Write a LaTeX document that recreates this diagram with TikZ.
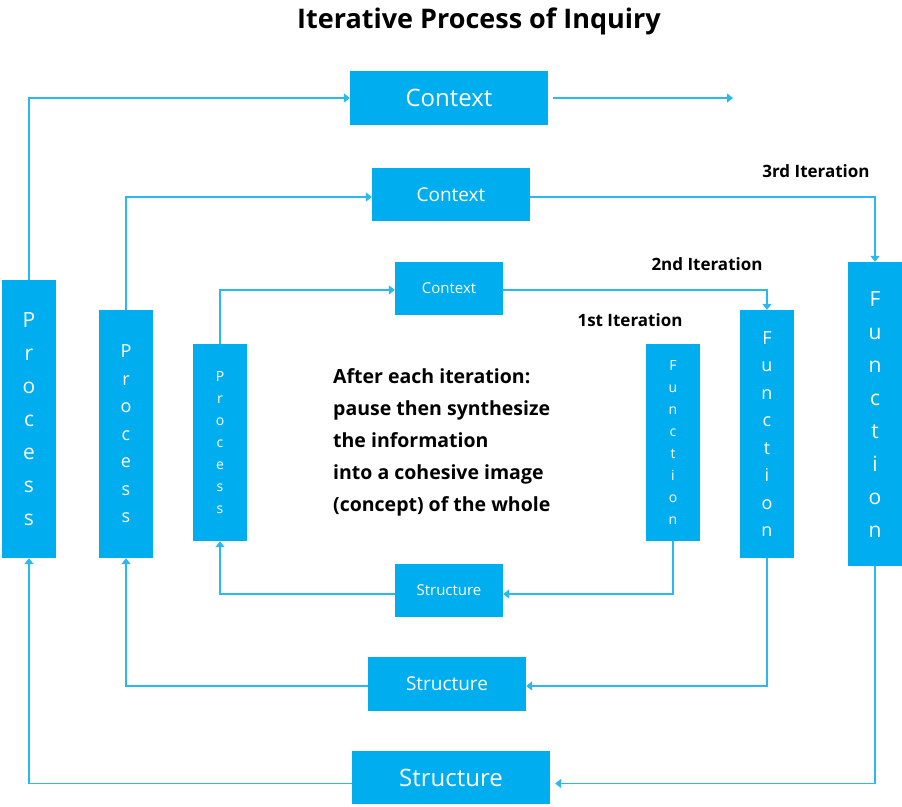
\documentclass[tikz,border=0pt]{standalone}
\usepackage{fontspec}
\setmainfont{Open Sans}
\usetikzlibrary{arrows.meta}
\definecolor{boxblue}{RGB}{0,174,239}
\definecolor{lineblue}{RGB}{40,185,240}
\tikzset{
  box/.style={fill=boxblue, text=white, inner sep=0pt, rectangle, align=center},
  conn/.style={draw=lineblue, line width=1.4pt, -{Triangle[width=9pt,length=6pt]}},
  lbl/.style={text=black, inner sep=0pt, font=\fontsize{17}{20}\selectfont\bfseries}
}
\begin{document}
\begin{tikzpicture}[x=1pt,y=-1pt]
\useasboundingbox (0,0) rectangle (902,806);
\node[inner sep=0pt, font=\fontsize{27}{32}\selectfont\bfseries] (title) at (479,21) {Iterative Process of Inquiry};
% Context boxes
\node[box, minimum width=198pt, minimum height=54pt, font=\fontsize{24}{28}\selectfont] (c1) at (449,98) {Context};
\node[box, minimum width=158pt, minimum height=53pt, font=\fontsize{19}{24}\selectfont] (c2) at (451,194.5) {Context};
\node[box, minimum width=108pt, minimum height=53pt, font=\fontsize{15}{18}\selectfont] (c3) at (449,288.5) {Context};
% Structure boxes
\node[box, minimum width=108pt, minimum height=53pt, font=\fontsize{15}{18}\selectfont] (s1) at (449,590.5) {Structure};
\node[box, minimum width=158pt, minimum height=54pt, font=\fontsize{19}{24}\selectfont] (s2) at (447,684) {Structure};
\node[box, minimum width=198pt, minimum height=53pt, font=\fontsize{24}{28}\selectfont] (s3) at (451,777.5) {Structure};
% Process boxes
\node[box, minimum width=54pt, minimum height=278pt, font=\fontsize{21}{33}\selectfont] (p3) at (29,419) {P\\r\\o\\c\\e\\s\\s};
\node[box, minimum width=54pt, minimum height=248pt, font=\fontsize{18}{27.5}\selectfont] (p2) at (126,434) {P\\r\\o\\c\\e\\s\\s};
\node[box, minimum width=54pt, minimum height=197pt, font=\fontsize{14}{22}\selectfont] (p1) at (220,442.5) {P\\r\\o\\c\\e\\s\\s};
% Function boxes
\node[box, minimum width=54pt, minimum height=197pt, font=\fontsize{14}{22}\selectfont] (f1) at (673,442.5) {F\\u\\n\\c\\t\\i\\o\\n};
\node[box, minimum width=54pt, minimum height=248pt, font=\fontsize{18}{27.5}\selectfont] (f2) at (767,434) {F\\u\\n\\c\\t\\i\\o\\n};
\node[box, minimum width=54pt, minimum height=304pt, font=\fontsize{21}{33}\selectfont] (f3) at (875,414) {F\\u\\n\\c\\t\\i\\o\\n};
% labels
\node[lbl] (it3) at (816,171) {3rd Iteration};
\node[lbl] (it2) at (707,264) {2nd Iteration};
\node[lbl] (it1) at (630,320) {1st Iteration};
\node[inner sep=0pt, anchor=north west, align=left, font=\fontsize{19.5}{32}\selectfont\bfseries] (note) at (333,368) {After each iteration:\\pause then synthesize\\the information\\into a cohesive image\\(concept) of the whole};
\coordinate (c1end) at (733,98);
% connectors
\draw[conn] (p3.north) |- (c1.west);
\draw[conn, shorten <=5pt] (c1.east) -- (c1end);
\draw[conn] (p2.north) |- ([yshift=-2.5pt]c2.west);
\draw[conn] ([yshift=-2.5pt]c2.east) -| (f3.north);
\draw[conn] (p1.north) |- ([yshift=-1.5pt]c3.west);
\draw[conn] ([yshift=-1.5pt]c3.east) -| (f2.north);
\draw[conn] (f1.south) |- ([yshift=-3.5pt]s1.east);
\draw[conn] ([yshift=-3.5pt]s1.west) -| (p1.south);
\draw[conn] (f2.south) |- ([yshift=-2pt]s2.east);
\draw[conn] ([yshift=-2pt]s2.west) -| (p2.south);
\draw[conn, shorten >=5pt] (f3.south) |- ([yshift=-6pt]s3.east);
\draw[conn] ([yshift=-6pt]s3.west) -| (p3.south);
\end{tikzpicture}
\end{document}
